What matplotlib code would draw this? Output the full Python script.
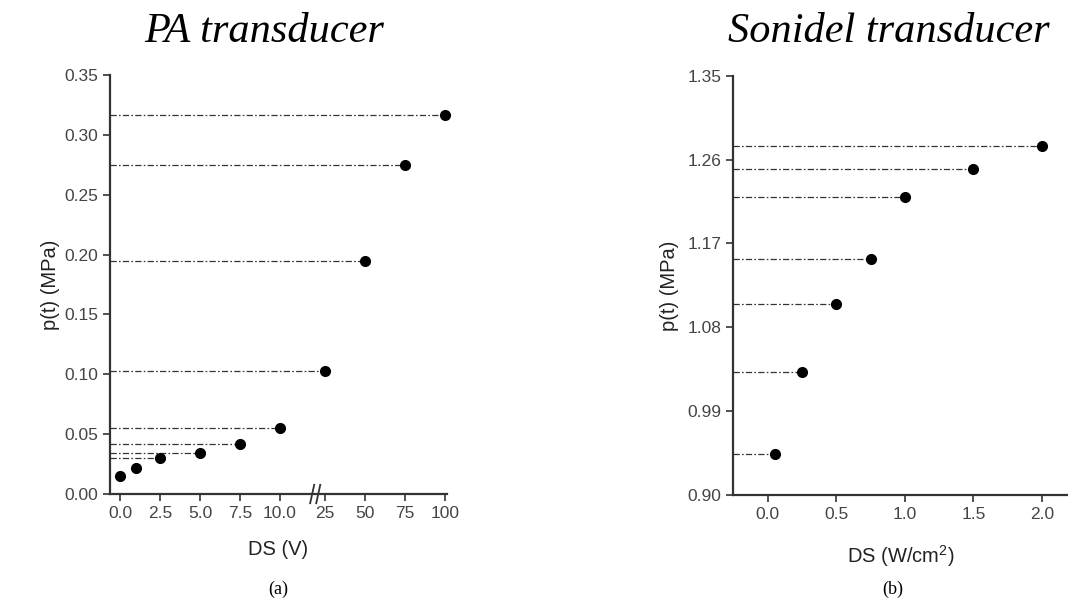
import numpy as np
import matplotlib
matplotlib.use("Agg")
import matplotlib.pyplot as plt

# panel (a): PA transducer
pa_ds = [0.0, 1.0, 2.5, 5.0, 7.5, 10.0, 25, 50, 75, 100]
pa_p = [0.015, 0.022, 0.030, 0.034, 0.042, 0.055, 0.103, 0.195, 0.275, 0.317]
pa_xticks = [0.0, 2.5, 5.0, 7.5, 10.0, 25, 50, 75, 100]
pa_xlabels = ["0.0", "2.5", "5.0", "7.5", "10.0", "25", "50", "75", "100"]
pa_yticks = [0.00, 0.05, 0.10, 0.15, 0.20, 0.25, 0.30, 0.35]

# panel (b): Sonidel transducer
so_ds = [0.05, 0.25, 0.5, 0.75, 1.0, 1.5, 2.0]
so_p = [0.944, 1.032, 1.105, 1.153, 1.220, 1.250, 1.274]
so_xticks = [0.0, 0.5, 1.0, 1.5, 2.0]
so_yticks = [0.90, 0.99, 1.08, 1.17, 1.26, 1.35]

AX_COL = "#333333"
TICK_COL = "#444444"
DASH = (0, (5, 1.8, 1.3, 1.8))

plt.rcParams["font.family"] = ["Liberation Sans", "DejaVu Sans"]


# broken x axis for panel (a): 0..12 linear, 12..25 squeezed, 25..100 compressed
def fwd(x):
    x = np.asarray(x, float)
    return np.where(x <= 12, x,
                    np.where(x < 25, 12 + (x - 12) * 0.8 / 13, 12.8 + (x - 25) * 0.1))


def inv(t):
    t = np.asarray(t, float)
    return np.where(t <= 12, t,
                    np.where(t < 12.8, 12 + (t - 12) * 13 / 0.8, 25 + (t - 12.8) / 0.1))


def style(ax):
    for s in ["top", "right"]:
        ax.spines[s].set_visible(False)
    for s in ["left", "bottom"]:
        ax.spines[s].set_color(AX_COL)
        ax.spines[s].set_linewidth(1.6)
    ax.tick_params(direction="out", length=5, width=1.2, color=AX_COL,
                   labelcolor=TICK_COL, labelsize=12.5)


fig = plt.figure(figsize=(10.68, 6.01), dpi=100)

ax1 = fig.add_axes([0.103, 0.178, 0.3155, 0.697])
ax1.set_xscale("function", functions=(fwd, inv))
ax1.set_xlim(-0.625, 101.4)
ax1.set_ylim(0, 0.35)
for x, y in zip(pa_ds[2:], pa_p[2:]):
    ax1.hlines(y, -0.625, x, colors="#333333", linestyles=DASH, linewidth=0.9)
ax1.plot(pa_ds, pa_p, "o", color="black", ms=7, clip_on=False, zorder=3)
ax1.set_xticks(pa_xticks)
ax1.set_xticklabels(pa_xlabels)
ax1.set_yticks(pa_yticks)
ax1.set_yticklabels(["%.2f" % v for v in pa_yticks])
ax1.xaxis.set_minor_locator(matplotlib.ticker.NullLocator())
style(ax1)
ax1.set_xlabel("DS (V)", fontsize=14.5, color="#222222", labelpad=14)
ax1.set_ylabel("p(t) (MPa)", fontsize=14.5, color="#222222", labelpad=3)
# break marks
for dx in (0.0, 0.018):
    ax1.plot([0.594 + dx, 0.606 + dx], [-0.022, 0.022], transform=ax1.transAxes,
             color=AX_COL, lw=1.3, clip_on=False)

ax2 = fig.add_axes([0.6863, 0.1764, 0.3137, 0.6977])
ax2.set_xlim(-0.255, 2.19)
ax2.set_ylim(0.90, 1.35)
for x, y in zip(so_ds, so_p):
    ax2.hlines(y, -0.255, x, colors="#333333", linestyles=DASH, linewidth=0.9)
ax2.plot(so_ds, so_p, "o", color="black", ms=7, zorder=3)
ax2.set_xticks(so_xticks)
ax2.set_xticklabels(["%.1f" % v for v in so_xticks])
ax2.set_yticks(so_yticks)
ax2.set_yticklabels(["%.2f" % v for v in so_yticks])
style(ax2)
ax2.set_xlabel("DS (W/cm$^{\\mathregular{2}}$)", fontsize=14.5, color="#222222",
               labelpad=15)
ax2.set_ylabel("p(t) (MPa)", fontsize=14.5, color="#222222", labelpad=6)

fig.text(0.247, 0.948, "PA transducer", fontsize=30.5, style="italic",
         family="Liberation Serif", ha="center", va="center")
fig.text(0.832, 0.948, "Sonidel transducer", fontsize=30.5, style="italic",
         family="Liberation Serif", ha="center", va="center")
fig.text(0.261, 0.02, "(a)", fontsize=13, family="Liberation Serif",
         ha="center", va="center")
fig.text(0.836, 0.02, "(b)", fontsize=13, family="Liberation Serif",
         ha="center", va="center")

fig.savefig("out.png", dpi=100)
